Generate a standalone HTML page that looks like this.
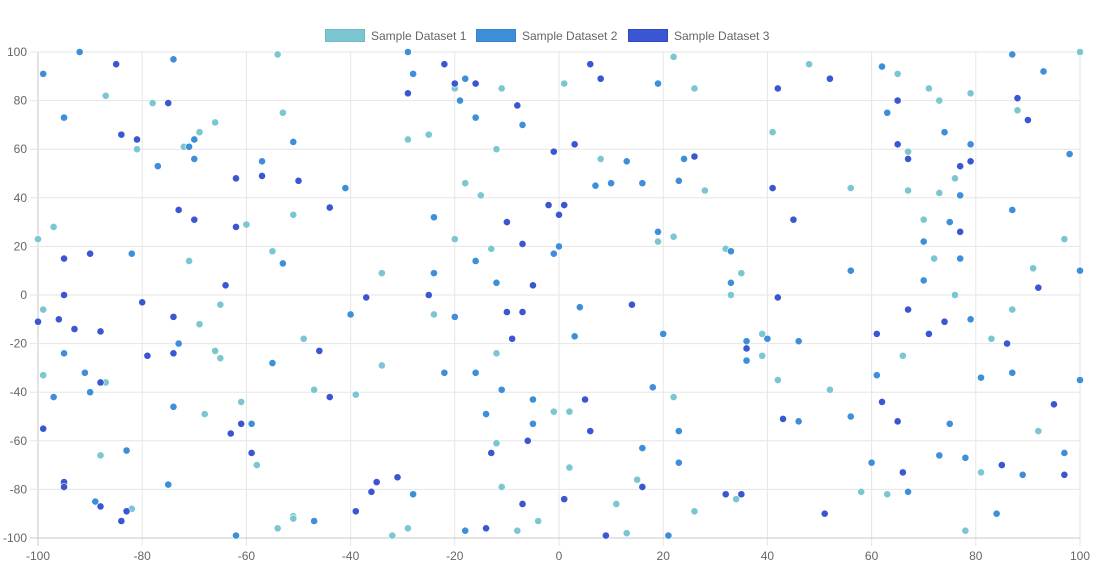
<!DOCTYPE html>
<html><head><meta charset="utf-8"><style>
html,body{margin:0;padding:0;background:#fff;}
svg{display:block;font-family:"Liberation Sans",sans-serif;}
</style></head><body>
<svg id="chart" width="1094" height="587" viewBox="0 0 1094 587"></svg>
<script>
const xTicks=[-100,-80,-60,-40,-20,0,20,40,60,80,100];
const yTicks=[100,80,60,40,20,0,-20,-40,-60,-80,-100];
const seriesNames=["Sample Dataset 1","Sample Dataset 2","Sample Dataset 3"];
const ds1Points=[[-54,99],[-87,82],[-78,79],[-53,75],[-66,71],[-69,67],[-81,60],[-72,61],[-51,33],[-97,28],[-60,29],[-100,23],[-55,18],[-71,14],[-34,9],[-20,85],[-11,85],[-29,64],[-25,66],[-12,60],[1,87],[22,98],[26,85],[8,56],[-18,46],[-15,41],[28,43],[19,22],[22,24],[-20,23],[-13,19],[32,19],[33,0],[48,95],[65,91],[71,85],[79,83],[73,80],[100,100],[88,76],[41,67],[67,59],[76,48],[56,44],[67,43],[73,42],[70,31],[97,23],[72,15],[91,11],[35,9],[76,0],
[-99,-6],[-65,-4],[-69,-12],[-66,-23],[-65,-26],[-49,-18],[-34,-29],[-99,-33],[-87,-36],[-47,-39],[-39,-41],[-61,-44],[-68,-49],[-58,-70],[-88,-66],[-82,-88],[-51,-91],[-51,-92],[-54,-96],
[-24,-8],[-12,-24],[22,-42],[-1,-48],[2,-48],[-12,-61],[2,-71],[15,-76],[-11,-79],[11,-86],[34,-84],[26,-89],[-4,-93],[-29,-96],[-32,-99],[-8,-97],[13,-98],
[87,-6],[39,-16],[39,-25],[83,-18],[66,-25],[42,-35],[52,-39],[92,-56],[81,-73],[58,-81],[63,-82],[78,-97]];
const ds2Points=[[-92,100],[-99,91],[-74,97],[-95,73],[-70,64],[-51,63],[-71,61],[-70,56],[-57,55],[-77,53],[-41,44],[-82,17],[-53,13],
[-29,100],[-28,91],[-18,89],[-19,80],[-16,73],[-7,70],[19,87],[13,55],[24,56],[7,45],[10,46],[16,46],[23,47],[-24,32],[19,26],[0,20],[-1,17],[33,18],[-16,14],[-24,9],[-12,5],[33,5],
[62,94],[63,75],[87,99],[93,92],[74,67],[79,62],[98,58],[77,41],[87,35],[75,30],[70,22],[77,15],[100,10],[56,10],[70,6],
[-40,-8],[-73,-20],[-95,-24],[-55,-28],[-91,-32],[-90,-40],[-97,-42],[-74,-46],[-59,-53],[-83,-64],[-75,-78],[-89,-85],[-47,-93],[-62,-99],
[-20,-9],[4,-5],[3,-17],[20,-16],[-22,-32],[-16,-32],[-11,-39],[18,-38],[-5,-43],[-14,-49],[-5,-53],[23,-56],[16,-63],[23,-69],[-28,-82],[-18,-97],[21,-99],
[79,-10],[40,-18],[36,-19],[36,-27],[46,-19],[61,-33],[81,-34],[87,-32],[100,-35],[46,-52],[56,-50],[75,-53],[60,-69],[73,-66],[78,-67],[89,-74],[97,-65],[67,-81],[84,-90]];
const ds3Points=[[-85,95],[-75,79],[-84,66],[-81,64],[-62,48],[-57,49],[-50,47],[-73,35],[-44,36],[-70,31],[-62,28],[-95,15],[-90,17],[-64,4],[-95,0],
[-22,95],[-20,87],[-16,87],[-29,83],[-8,78],[-1,59],[3,62],[6,95],[8,89],[26,57],[-2,37],[1,37],[0,33],[-10,30],[-7,21],[-5,4],[-25,0],
[52,89],[42,85],[65,80],[88,81],[90,72],[65,62],[67,56],[77,53],[79,55],[41,44],[45,31],[77,26],[92,3],
[-80,-3],[-100,-11],[-96,-10],[-93,-14],[-88,-15],[-74,-9],[-37,-1],[-74,-24],[-79,-25],[-46,-23],[-88,-36],[-44,-42],[-99,-55],[-61,-53],[-63,-57],[-59,-65],[-95,-77],[-95,-79],[-88,-87],[-83,-89],[-84,-93],[-35,-77],[-36,-81],[-39,-89],
[-10,-7],[-7,-7],[14,-4],[-9,-18],[5,-43],[6,-56],[-6,-60],[-13,-65],[-31,-75],[16,-79],[-7,-86],[1,-84],[32,-82],[-14,-96],[9,-99],
[42,-1],[67,-6],[74,-11],[36,-22],[61,-16],[71,-16],[86,-20],[62,-44],[95,-45],[43,-51],[65,-52],[66,-73],[85,-70],[97,-74],[35,-82],[51,-90]];

const NS="http://www.w3.org/2000/svg";
const svg=document.getElementById('chart');
const L=38,R=1080,T=52,B=538;
const sx=v=>L+(v+100)/200*(R-L);
const sy=v=>B-(v+100)/200*(B-T);
function mk(tag,attrs,parent){const e=document.createElementNS(NS,tag);for(const k in attrs)e.setAttribute(k,attrs[k]);(parent||svg).appendChild(e);return e;}

const grid=mk('g',{});


xTicks.forEach(t=>{
  const x=sx(t);
  const l=mk('line',{x1:x,y1:T,x2:x,y2:B+8,stroke:t===-100?'#c8c8c8':'#e6e6e6','stroke-width':1},grid);
  
  
  const tx=mk('text',{x:x,y:B+22,'text-anchor':'middle','font-size':12,fill:'#666'});
  tx.textContent=t;
  
  
});
yTicks.forEach(t=>{
  const y=sy(t);
  const l=mk('line',{x1:L-8,y1:y,x2:R,y2:y,stroke:t===-100?'#c8c8c8':'#e6e6e6','stroke-width':1},grid);
  
  
  const tx=mk('text',{x:L-11,y:y+4,'text-anchor':'end','font-size':12,fill:'#666'});
  tx.textContent=t;
  
  
});

const fills=['#7cc6d2','#3d8fd9','#3b56d2'];
const strokes=['#6fb9c6','#3584cf','#3349c4'];
[ds1Points,ds2Points,ds3Points].forEach((pts,i)=>{
  const g=mk('g',{});
  
  
  pts.forEach(p=>{
    const c=mk('circle',{cx:sx(p[0]),cy:sy(p[1]),r:3.6,fill:fills[i],stroke:'#fff','stroke-width':0.6},g);
    
    
  });
});

const legX=[325,476,628];
const leg=mk('g',{});


seriesNames.forEach((n,i)=>{
  const e=mk('g',{},leg);
  
  
  mk('rect',{x:legX[i]+0.5,y:29.5,width:39,height:12,fill:fills[i],stroke:strokes[i],'stroke-width':1},e);
  const t=mk('text',{x:legX[i]+46,y:40,'font-size':12,fill:'#666'},e);
  t.textContent=n;
});
</script>
</body></html>
